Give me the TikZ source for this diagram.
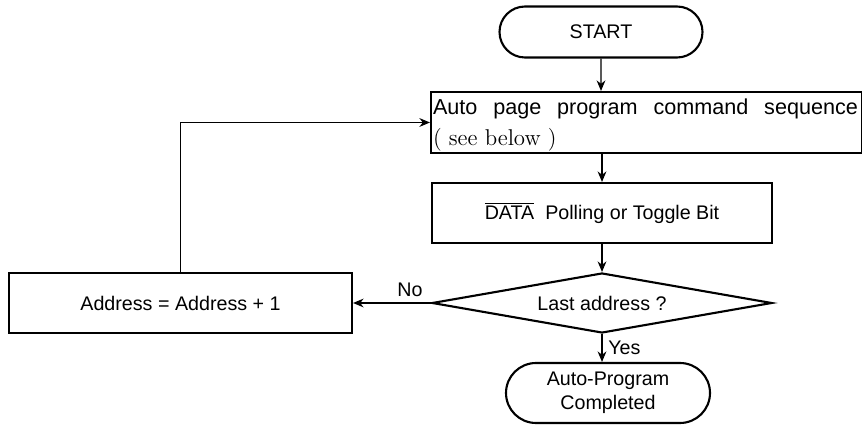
\documentclass[tikz,border=0pt]{standalone}
\usepackage{fontspec}
\newfontfamily\arialfont{Liberation Sans}
\usetikzlibrary{shapes.geometric,shapes.misc,arrows.meta}

\tikzset{
  every node/.style={font=\arialfont\fontsize{11.2}{13.6}\selectfont},
  flowbox/.style={draw,line width=1.2pt,minimum height=1.2cm,inner sep=0pt},
  terminal/.style={draw,line width=1.2pt,rounded rectangle,inner sep=0pt},
  decision/.style={draw,line width=1.2pt,diamond,aspect=5.67,minimum width=6.8cm,minimum height=1.2cm,inner sep=0pt},
  flowline/.style={line width=0.6pt,-{Stealth[length=6pt,width=5pt]}}
}

\begin{document}
\begin{tikzpicture}[x=1cm,y=1cm]
\useasboundingbox (0,0) rectangle (17.24,8.52);
\node[terminal,minimum width=4.06cm,minimum height=1.02cm] (start) at (12.02,7.88) {START};
\node[flowbox,minimum width=8.62cm,minimum height=1.22cm,text width=8.54cm,inner xsep=0.04cm,align=left,
      font=\arialfont\fontsize{12.3}{17.6}\selectfont] (autocmd) at (12.93,6.07)
  {\hbox to 8.5cm{Auto\hfill page\hfill program\hfill command\hfill sequence}\\\smash{\rmfamily\fontsize{13}{17.6}\selectfont ( see below )}};
\node[flowbox,minimum width=6.8cm] (polling) at (12.04,4.26) {$\overline{\mbox{\arialfont DATA}}$\ \ Polling or Toggle Bit};
\node[decision] (lastaddr) at (12.04,2.46) {Last address ?};
\node[flowbox,minimum width=6.86cm] (addrinc) at (3.61,2.46) {Address = Address + 1};
\node[terminal,minimum width=4.08cm,minimum height=1.2cm,align=center] (done) at (12.16,0.66) {Auto-Program\\Completed};

\draw[flowline] (start) -- (start |- autocmd.north);
\draw[flowline] (polling |- autocmd.south) -- (polling);
\draw[flowline] (polling) -- (lastaddr);
\draw[flowline] (lastaddr.west) -- node[above,pos=0.27] {No} (addrinc.east);
\draw[flowline] (lastaddr.south) -- node[right,midway] {Yes} (lastaddr.south |- done.north);
\draw[flowline] (addrinc.north) |- (autocmd.west);
\end{tikzpicture}
\end{document}
